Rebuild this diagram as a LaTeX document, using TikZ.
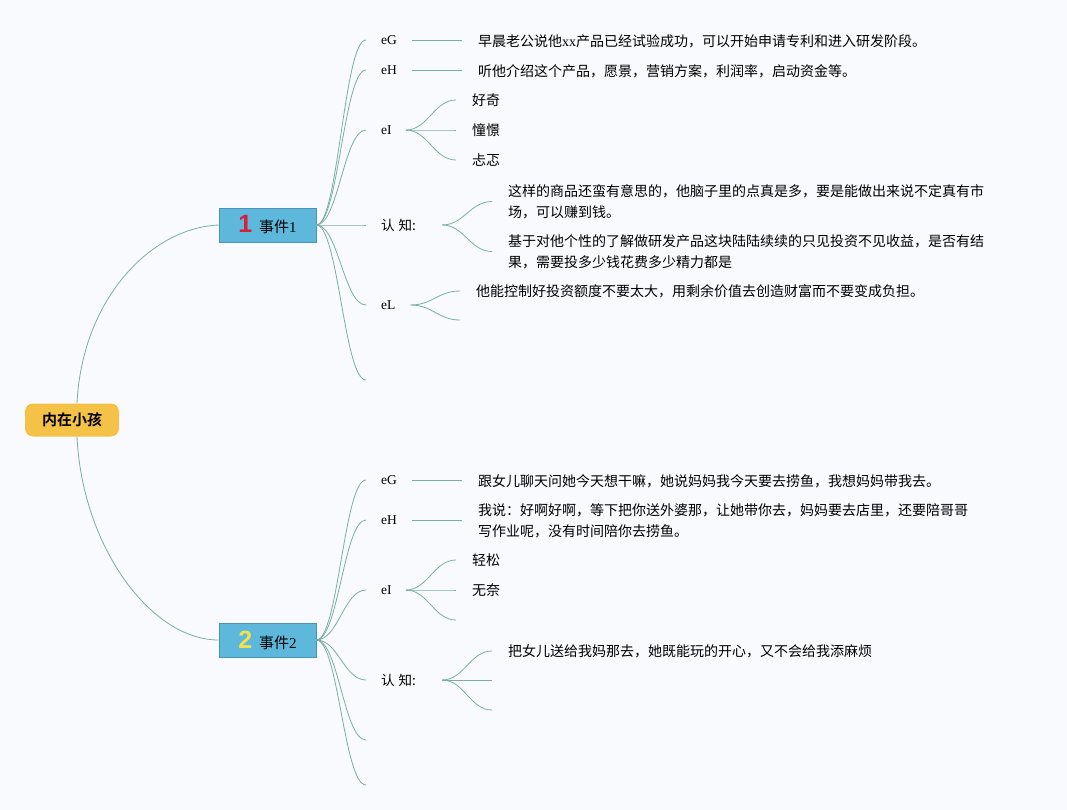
\documentclass[tikz,border=0pt]{standalone}
\usepackage{fontspec}
\setmainfont{Liberation Serif}
\newfontfamily\cjk[BoldFont={Noto Sans CJK SC Bold}]{Noto Sans CJK SC}
\newfontfamily\numfont{Liberation Sans}
\definecolor{bgc}{HTML}{F8FAFD}
\definecolor{lnc}{HTML}{7AAFA2}
\definecolor{rootc}{HTML}{F3C247}
\definecolor{evc}{HTML}{5DB8DC}
\definecolor{evb}{HTML}{4A93B4}
\definecolor{numa}{HTML}{D6203C}
\definecolor{numb}{HTML}{F3E04D}
\tikzset{
  br/.style={draw=lnc, line width=0.8pt},
  rootbox/.style={fill=rootc, rounded corners=8pt, minimum width=94pt, minimum height=33pt, inner sep=0pt, font=\cjk\bfseries\fontsize{15}{15}\selectfont},
  evbox/.style={fill=evc, draw=evb, line width=0.6pt, minimum width=97pt, minimum height=34pt, inner sep=0pt, font=\fontsize{15}{15}\selectfont},
  lab/.style={anchor=west, inner sep=2pt, font=\fontsize{13.5}{13.5}\selectfont},
  txt/.style={anchor=west, inner sep=2pt, align=left, font=\cjk\fontsize{14}{21}\selectfont}
}
\begin{document}
\begin{tikzpicture}[x=1pt,y=-1pt]
\fill[bgc] (0,0) rectangle (1067,810);
\useasboundingbox (0,0) rectangle (1067,810);

% root and events
\node[rootbox] (root) at (72,420) {内在小孩};
\node[evbox] (e1) at (267.5,225) {{\numfont\bfseries\fontsize{25}{25}\selectfont\color{numa}1}\hspace{7pt}{\cjk 事件}1};
\node[evbox] (e2) at (267.5,640) {{\numfont\bfseries\fontsize{25}{25}\selectfont\color{numb}2}\hspace{7pt}{\cjk 事件}2};
\draw[br] ([xshift=5pt]root.north) .. controls (82,300) and (150,228) .. (e1.west);
\draw[br] ([xshift=5pt]root.south) .. controls (82,545) and (150,640) .. (e2.west);

% ---------- event 1 ----------
\node[lab] (a1) at (379,40) {eG};
\node[lab] (a2) at (379,70) {eH};
\node[lab] (a3) at (379,130) {eI};
\node[lab,font=\cjk\fontsize{13.5}{13.5}\selectfont] (a4) at (379,225) {认\hspace{4pt}知:};
\node[lab] (a5) at (379,305) {eL};
\coordinate (a6) at (366,380);
\foreach \n in {a1,a2,a3,a4,a5}
  \draw[br] (e1.east) .. controls +(22,0) and +(-22,0) .. ([xshift=-13pt]\n.west);
\draw[br] (e1.east) .. controls +(22,0) and +(-22,0) .. (a6);

\node[txt] (t1) at (476,41) {早晨老公说他{\rmfamily xx}产品已经试验成功，可以开始申请专利和进入研发阶段。};
\node[txt] (t2) at (476,71) {听他介绍这个产品，愿景，营销方案，利润率，启动资金等。};
\draw[br] ([xshift=13pt]a1.east) -- ([xshift=-14pt]t1.west |- a1.east);
\draw[br] ([xshift=13pt]a2.east) -- ([xshift=-14pt]t2.west |- a2.east);

\node[txt] (f1) at (470,100) {好奇};
\node[txt] (f2) at (470,130) {憧憬};
\node[txt] (f3) at (470,160) {忐忑};
\foreach \n in {f1,f2,f3}
  \draw[br] ([xshift=12pt]a3.east) .. controls +(22,0) and +(-22,0) .. ([xshift=-14pt]\n.west);

\node[txt] (c1) at (506,201.5) {这样的商品还蛮有意思的，他脑子里的点真是多，要是能做出来说不定真有市\\场，可以赚到钱。};
\node[txt] (c2) at (506,251.5) {基于对他个性的了解做研发产品这块陆陆续续的只见投资不见收益，是否有结\\果，需要投多少钱花费多少精力都是};
\draw[br] ([xshift=24pt]a4.east) .. controls +(22,0) and +(-22,0) .. ([xshift=-14pt]c1.west);
\draw[br] ([xshift=24pt]a4.east) .. controls +(22,0) and +(-22,0) .. ([xshift=-14pt]c2.west);

\node[txt] (l1) at (474,291) {他能控制好投资额度不要太大，用剩余价值去创造财富而不要变成负担。};
\coordinate (l2) at (460,320);
\draw[br] ([xshift=13pt]a5.east) .. controls +(22,0) and +(-22,0) .. ([xshift=-14pt]l1.west);
\draw[br] ([xshift=13pt]a5.east) .. controls +(22,0) and +(-22,0) .. (l2);

% ---------- event 2 ----------
\node[lab] (b1) at (379,480) {eG};
\node[lab] (b2) at (379,520) {eH};
\node[lab] (b3) at (379,590) {eI};
\node[lab,font=\cjk\fontsize{13.5}{13.5}\selectfont] (b4) at (379,680) {认\hspace{4pt}知:};
\coordinate (b5) at (366,740);
\coordinate (b6) at (366,785);
\foreach \n in {b1,b2,b3,b4}
  \draw[br] (e2.east) .. controls +(22,0) and +(-22,0) .. ([xshift=-13pt]\n.west);
\draw[br] (e2.east) .. controls +(22,0) and +(-22,0) .. (b5);
\draw[br] (e2.east) .. controls +(22,0) and +(-22,0) .. (b6);

\node[txt] (s1) at (476,481) {跟女儿聊天问她今天想干嘛，她说妈妈我今天要去捞鱼，我想妈妈带我去。};
\node[txt] (s2) at (476,521) {我说：好啊好啊，等下把你送外婆那，让她带你去，妈妈要去店里，还要陪哥哥\\写作业呢，没有时间陪你去捞鱼。};
\draw[br] ([xshift=13pt]b1.east) -- ([xshift=-14pt]s1.west |- b1.east);
\draw[br] ([xshift=13pt]b2.east) -- ([xshift=-14pt]s2.west |- b2.east);

\node[txt] (g1) at (470,560) {轻松};
\node[txt] (g2) at (470,590) {无奈};
\coordinate (g3) at (456,620);
\draw[br] ([xshift=12pt]b3.east) .. controls +(22,0) and +(-22,0) .. ([xshift=-14pt]g1.west);
\draw[br] ([xshift=12pt]b3.east) .. controls +(22,0) and +(-22,0) .. ([xshift=-14pt]g2.west);
\draw[br] ([xshift=12pt]b3.east) .. controls +(22,0) and +(-22,0) .. (g3);

\node[txt] (k1) at (506,651) {把女儿送给我妈那去，她既能玩的开心，又不会给我添麻烦};
\coordinate (k2) at (492,680);
\coordinate (k3) at (492,710);
\draw[br] ([xshift=24pt]b4.east) .. controls +(22,0) and +(-22,0) .. ([xshift=-14pt]k1.west);
\draw[br] ([xshift=24pt]b4.east) -- (k2);
\draw[br] ([xshift=24pt]b4.east) .. controls +(22,0) and +(-22,0) .. (k3);
\end{tikzpicture}
\end{document}
